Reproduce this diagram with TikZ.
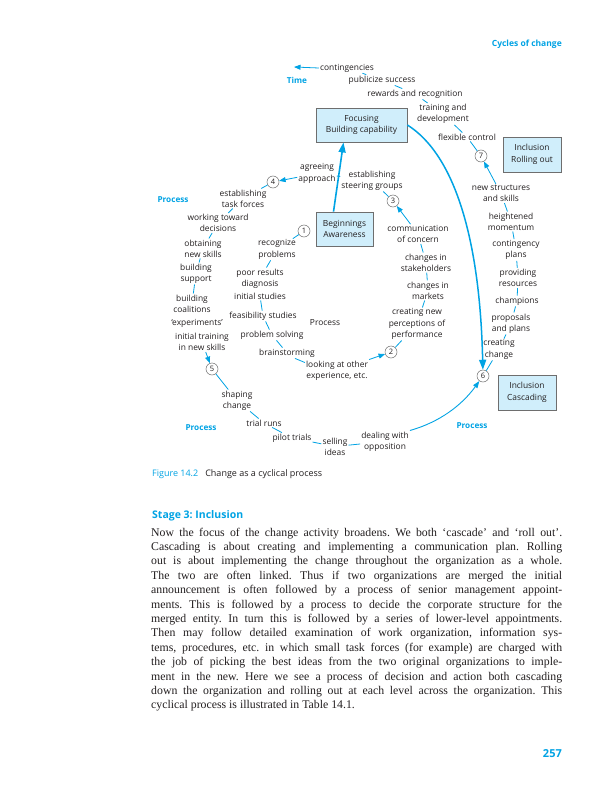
\documentclass[tikz,border=0pt]{standalone}
\usepackage{fontspec}
\setmainfont{Liberation Serif}
\newfontfamily\dfont{Open Sans}
\usetikzlibrary{arrows.meta}
\definecolor{cblue}{RGB}{0,163,228}
\definecolor{boxfill}{RGB}{208,238,251}
\definecolor{boxline}{RGB}{110,110,110}
\definecolor{ink}{RGB}{35,31,32}
\frenchspacing
\begin{document}
\begin{tikzpicture}[x=1pt,y=-1pt,
 lbl/.style={font=\dfont\fontsize{8.4}{11.2}\selectfont, text=ink, align=center, inner sep=1pt},
 num/.style={circle, draw=boxline, fill=white, line width=0.5pt, minimum size=12pt, inner sep=0pt, font=\dfont\fontsize{7.5}{8}\selectfont, text=ink},
 stagebox/.style={draw=boxline, fill=boxfill, line width=0.8pt, align=center, font=\dfont\fontsize{8.4}{11.5}\selectfont, text=ink, minimum height=35pt, inner sep=1pt},
 proc/.style={font=\dfont\bfseries\fontsize{8.2}{10}\selectfont, text=cblue, inner sep=0pt},
 conn/.style={draw=cblue, line width=0.8pt},
 tip/.style={conn, -{Triangle[length=6.5pt,width=5pt]}},
 bodyline/.style={anchor=base west, inner sep=0pt, font=\fontsize{11.8}{14}\selectfont, text=ink},
]
\useasboundingbox (0,0) rectangle (613,800);
\fill[white] (0,0) rectangle (613,800);

% title
\node[anchor=east, inner sep=0pt, font=\dfont\bfseries\fontsize{8.5}{10}\selectfont, text=cblue] (title) at (562,44) {Cycles of change};

% stage boxes
\node[stagebox, minimum width=91pt, minimum height=34pt] (boxF) at (361.5,125) {Focusing\\Building capability};
\node[stagebox, minimum width=57pt, minimum height=34pt] (boxB) at (344.5,229) {Beginnings\\Awareness};
\node[stagebox, minimum width=58pt] (boxRO) at (532,154.5) {Inclusion\\Rolling out};
\node[stagebox, minimum width=58pt] (boxC) at (527,392.5) {Inclusion\\Cascading};

% process labels
\node[proc] (time) at (297,80) {Time};
\node[proc] (procTL) at (173,200) {Process};
\node[proc] (procL) at (201,428) {Process};
\node[proc] (procR) at (472,426) {Process};
\node[lbl] (procM) at (325,323) {Process};

% numbered circles
\node[num] (c1) at (304,231) {1};
\node[num] (c2) at (391,352) {2};
\node[num] (c3) at (393,201) {3};
\node[num] (c4) at (273,182) {4};
\node[num] (c5) at (212,369) {5};
\node[num] (c6) at (483,376) {6};
\node[num] (c7) at (481,156) {7};

% labels, top
\node[lbl] (cont) at (347,68) {contingencies};
\node[lbl] (publ) at (382,80) {publicize success};
\node[lbl] (rew) at (415,94) {rewards and recognition};
\node[lbl] (train) at (443,114) {training and\\development};
\node[lbl] (flex) at (467,137) {flexible control};
% right column
\node[lbl] (newstr) at (501,193.5) {new structures\\and skills};
\node[lbl] (heigh) at (511,221.5) {heightened\\momentum};
\node[lbl] (contg) at (516,250) {contingency\\plans};
\node[lbl] (prov) at (518,278) {providing\\resources};
\node[lbl] (champ) at (517,301) {champions};
\node[lbl] (prop) at (511,323.5) {proposals\\and plans};
\node[lbl] (creat) at (499,349.5) {creating\\change};
% bottom
\node[lbl] (deal) at (385,441.5) {dealing with\\opposition};
\node[lbl] (sell) at (335,446.5) {selling\\ideas};
\node[lbl] (pilot) at (292,438) {pilot trials};
\node[lbl] (trial) at (264,423) {trial runs};
\node[lbl] (shape) at (237,400.5) {shaping\\change};
% left column
\node[lbl] (inits) at (202,342) {initial training\\in new skills};
\node[lbl] (exper) at (197,323) {‘experiments’};
\node[lbl] (coal) at (192,303.5) {building\\coalitions};
\node[lbl] (supp) at (196,273.5) {building\\support};
\node[lbl] (obt) at (203,248.5) {obtaining\\new skills};
\node[lbl] (work) at (218,223) {working toward\\decisions};
\node[lbl] (task) at (243,198.5) {establishing\\task forces};
% inner
\node[lbl] (agree) at (317,173.5) {agreeing\\approach};
\node[lbl] (steer) at (372,180.5) {establishing\\steering groups};
\node[lbl] (comm) at (418,234) {communication\\of concern};
\node[lbl] (stake) at (426,262.5) {changes in\\stakeholders};
\node[lbl] (mark) at (428,290.5) {changes in\\markets};
\node[lbl] (perc) at (417,324) {creating new\\perceptions of\\performance};
\node[lbl] (look) at (337,370.5) {looking at other\\experience, etc.};
\node[lbl] (brain) at (287,353) {brainstorming};
\node[lbl] (prob) at (272,335) {problem solving};
\node[lbl] (feas) at (263,316) {feasibility studies};
\node[lbl] (inist) at (260,296) {initial studies};
\node[lbl] (poor) at (260,278.5) {poor results\\diagnosis};
\node[lbl] (recog) at (277,249.5) {recognize\\problems};

% big arrows
\draw[cblue, line width=1.6pt, -{Triangle[length=10pt,width=7pt]}] ([xshift=-11pt]boxB.north) -- ([xshift=-18pt]boxF.south);
\draw[cblue, line width=1.5pt, -{Triangle[length=10pt,width=7pt]}] (boxF.east) .. controls (455,155) and (480,240) .. (c6);

% time arrow
\coordinate (timetip) at (294,67);
\draw[tip] (cont.west) -- (timetip);

% connectors
\draw[conn] (cont) -- (publ);
\draw[conn] (publ) -- (rew);
\draw[conn] (rew) -- (train);
\draw[conn] (train) -- (flex);
\draw[conn] (flex) -- (c7);
\draw[tip] (newstr) -- (c7);
\draw[conn] (newstr) -- (heigh);
\draw[conn] (heigh) -- (contg);
\draw[conn] (contg) -- (prov);
\draw[conn] (prov) -- (champ);
\draw[conn] (champ) -- (prop);
\draw[conn] (prop) -- (creat);
\draw[conn] (creat) -- (c6);
\draw[conn, line width=0.9pt, -{Triangle[length=7pt,width=5pt]}] (deal.north east) .. controls (440,422) and (462,405) .. (c6);
\draw[conn] (sell) -- (deal);
\draw[conn] (pilot) -- (sell);
\draw[conn] (trial) -- (pilot);
\draw[conn] (shape) -- (trial);
\draw[conn] (c5) -- (shape);
\draw[tip] (inits) -- (c5);
\draw[conn] (supp) -- (coal);
\draw[conn] (obt) -- (supp);
\draw[conn] (work) -- (obt);
\draw[conn] (task) -- (work);
\draw[conn] (c4) -- (task);
\draw[tip] (agree) -- (c4);
\draw[conn] (agree) -- (steer);
\draw[conn] (steer) -- (c3);
\draw[tip] (comm) -- (c3);
\draw[conn] (stake) -- (comm);
\draw[conn] (mark) -- (stake);
\draw[conn] (perc) -- (mark);
\draw[conn] (c2) -- (perc);
\draw[tip] (look) -- (c2);
\draw[conn] ([xshift=8pt]brain.south) -- ([yshift=-3pt]look.north west);
\draw[conn] (prob) -- (brain);
\draw[conn] (feas) -- (prob);
\draw[conn] (inist) -- (feas);
\draw[conn] (recog) -- (poor);
\draw[conn] (c1) -- (recog);

% caption
\node[anchor=base west, inner sep=0pt, font=\dfont\fontsize{9}{11}\selectfont, text=ink] (cap) at (152,476) {\textcolor{cblue}{Figure 14.2}\hspace{7pt}Change as a cyclical process};
\node[anchor=base west, inner sep=0pt, font=\dfont\bfseries\fontsize{10.5}{12}\selectfont, text=cblue] (stage) at (152,518) {Stage 3: Inclusion};

% body text
\node[bodyline] (l1) at (151,536) {\makebox[411pt][s]{Now the focus of the change activity broadens. We both ‘cascade’ and ‘roll out’.}};
\node[bodyline] (l2) at (151,550.4) {\makebox[411pt][s]{Cascading is about creating and implementing a communication plan. Rolling}};
\node[bodyline] (l3) at (151,564.8) {\makebox[411pt][s]{out is about implementing the change throughout the organization as a whole.}};
\node[bodyline] (l4) at (151,579.2) {\makebox[411pt][s]{The two are often linked. Thus if two organizations are merged the initial}};
\node[bodyline] (l5) at (151,593.6) {\makebox[411pt][s]{announcement is often followed by a process of senior management appoint-}};
\node[bodyline] (l6) at (151,608) {\makebox[411pt][s]{ments. This is followed by a process to decide the corporate structure for the}};
\node[bodyline] (l7) at (151,622.4) {\makebox[411pt][s]{merged entity. In turn this is followed by a series of lower-level appointments.}};
\node[bodyline] (l8) at (151,636.8) {\makebox[411pt][s]{Then may follow detailed examination of work organization, information sys-}};
\node[bodyline] (l9) at (151,651.2) {\makebox[411pt][s]{tems, procedures, etc. in which small task forces (for example) are charged with}};
\node[bodyline] (l10) at (151,665.6) {\makebox[411pt][s]{the job of picking the best ideas from the two original organizations to imple-}};
\node[bodyline] (l11) at (151,680) {\makebox[411pt][s]{ment in the new. Here we see a process of decision and action both cascading}};
\node[bodyline] (l12) at (151,694.4) {\makebox[411pt][s]{down the organization and rolling out at each level across the organization. This}};
\node[bodyline] (l13) at (151,708.8) {cyclical process is illustrated in Table 14.1.};

% page number
\node[anchor=base east, inner sep=0pt, font=\dfont\bfseries\fontsize{11}{12}\selectfont, text=cblue] (pnum) at (562,757) {257};
\end{tikzpicture}
\end{document}
